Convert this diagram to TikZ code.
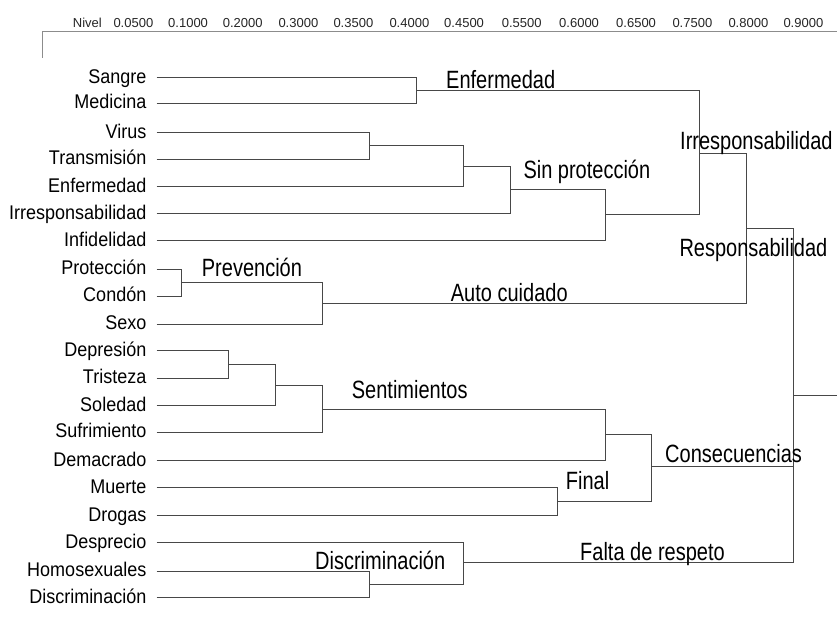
\documentclass[tikz,border=0pt]{standalone}
\usepackage{graphicx}
\usepackage{fontspec}
\setmainfont{Liberation Sans}
\newcommand\hdtxt[1]{\scalebox{1}[1.25]{#1}}
\newcommand\lftxt[1]{\scalebox{1}[1.1]{#1}}
\begin{document}
\begin{tikzpicture}[x=1pt,y=-1pt,
  leaf/.style={anchor=base east,inner sep=0pt,font=\fontsize{18}{20}\selectfont},
  hdr/.style={anchor=base west,inner sep=0pt,font=\fontsize{20}{22}\selectfont},
  axlab/.style={anchor=base west,inner sep=0pt,font=\fontsize{13}{15}\selectfont,text=black!85},
  link/.style={draw=black!72,line width=1pt},
  axline/.style={draw=black!45,line width=1pt}]
\fill[white] (0,0) rectangle (837,620);
\useasboundingbox (0,0) rectangle (837,620);
% axis
\coordinate (ax0) at (42,58);
\coordinate (ax1) at (42,32);
\coordinate (ax2) at (837,32);
\draw[axline] (ax0) -- (ax1) -- (ax2);
\node[axlab] (nivel) at (72.7,27.3) {Nivel};
\foreach \k/\x/\v in {1/113.3/0.0500,2/168/0.1000,3/222.7/0.2000,4/278.3/0.3000,5/333.3/0.3500,6/389.3/0.4000,7/444/0.4500,8/501.7/0.5500,9/559/0.6000,10/616/0.6500,11/672.3/0.7500,12/728.3/0.8000,13/783.3/0.9000}
  {\node[axlab] (ax\k) at (\x,27.3) {\v};}
% leaves
\foreach \i/\y/\t in {1/77.7/Sangre,2/103.3/Medicina,3/132.7/Virus,4/159.3/Transmisión,5/186.7/Enfermedad,6/214/Irresponsabilidad,7/241/Infidelidad,8/269/Protección,9/296/Condón,10/324/Sexo,11/350.7/Depresión,12/378.3/Tristeza,13/405.7/Soledad,14/432.3/Sufrimiento,15/460.7/Demacrado,16/487.7/Muerte,17/515.7/Drogas,18/542.7/Desprecio,19/571/Homosexuales,20/597.7/Discriminación}
  {\node[leaf] (t\i) at (146.5,\y+5.5) {\lftxt{\t}};
   \coordinate (a\i) at (156.7,\y);}
% junctions
\coordinate (sm) at (416,91);
\coordinate (vt) at (369.3,146);
\coordinate (vte) at (463.3,166.7);
\coordinate (j4) at (510,190);
\coordinate (j5) at (605,215);
\coordinate (irr) at (699.3,153.3);
\coordinate (pc) at (181.7,282.7);
\coordinate (pcs) at (322.7,303.3);
\coordinate (resp) at (746.7,228.3);
\coordinate (dt) at (228.3,364.3);
\coordinate (dts) at (275.3,385.7);
\coordinate (sent) at (322.7,409);
\coordinate (sd) at (605,434.3);
\coordinate (md) at (557.7,501);
\coordinate (cons) at (651.7,466.7);
\coordinate (hd) at (369.3,584.3);
\coordinate (disc) at (463.3,562.7);
\coordinate (root) at (793.3,395);
\coordinate (rootend) at (837,395);
% links
\draw[link] (a1) -| (sm);  \draw[link] (a2) -| (sm);
\draw[link] (a3) -| (vt);  \draw[link] (a4) -| (vt);
\draw[link] (vt) -| (vte); \draw[link] (a5) -| (vte);
\draw[link] (vte) -| (j4); \draw[link] (a6) -| (j4);
\draw[link] (j4) -| (j5);  \draw[link] (a7) -| (j5);
\draw[link] (sm) -| (irr); \draw[link] (j5) -| (irr);
\draw[link] (a8) -| (pc);  \draw[link] (a9) -| (pc);
\draw[link] (pc) -| (pcs); \draw[link] (a10) -| (pcs);
\draw[link] (irr) -| (resp); \draw[link] (pcs) -| (resp);
\draw[link] (a11) -| (dt); \draw[link] (a12) -| (dt);
\draw[link] (dt) -| (dts); \draw[link] (a13) -| (dts);
\draw[link] (dts) -| (sent); \draw[link] (a14) -| (sent);
\draw[link] (sent) -| (sd); \draw[link] (a15) -| (sd);
\draw[link] (a16) -| (md); \draw[link] (a17) -| (md);
\draw[link] (sd) -| (cons); \draw[link] (md) -| (cons);
\draw[link] (a19) -| (hd); \draw[link] (a20) -| (hd);
\draw[link] (a18) -| (disc); \draw[link] (hd) -| (disc);
\draw[link] (resp) -| (root); \draw[link] (cons) -| (root); \draw[link] (disc) -| (root);
\draw[link] (root) -- (rootend);
% cluster labels
\node[hdr] (h1) at (446,88.3) {\hdtxt{Enfermedad}};
\node[hdr] (h2) at (680,150) {\hdtxt{Irresponsabilidad}};
\node[hdr] (h3) at (523.3,178.3) {\hdtxt{Sin protección}};
\node[hdr] (h4) at (679.3,256.7) {\hdtxt{Responsabilidad}};
\node[hdr] (h5) at (450.7,301.7) {\hdtxt{Auto cuidado}};
\node[hdr] (h6) at (201.7,276) {\hdtxt{Prevención}};
\node[hdr] (h7) at (351.7,398.8) {\hdtxt{Sentimientos}};
\node[hdr] (h8) at (665,462.7) {\hdtxt{Consecuencias}};
\node[hdr] (h9) at (565.7,489.3) {\hdtxt{Final}};
\node[hdr] (h10) at (580,560) {\hdtxt{Falta de respeto}};
\node[hdr] (h11) at (315,569.3) {\hdtxt{Discriminación}};
\end{tikzpicture}
\end{document}
